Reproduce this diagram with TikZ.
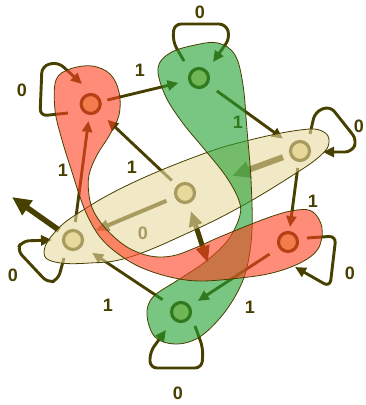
\documentclass[tikz,border=0pt]{standalone}
\usepackage{fontspec}
\setmainfont{Liberation Sans}
\usetikzlibrary{arrows.meta}
\definecolor{edgec}{HTML}{484000}
\definecolor{nodefill}{HTML}{E8D890}
\definecolor{tanfill}{HTML}{E8D8A0}
\definecolor{greenfill}{HTML}{20A030}
\definecolor{redfill}{HTML}{FF4020}
\begin{document}
\begin{tikzpicture}[x=1pt,y=-1pt,
  edge/.style={draw=edgec, line width=2.9pt, -{Triangle[length=11pt,width=10pt]}},
  st/.style={circle, draw=edgec, line width=3.2pt, fill=nodefill, minimum size=19pt, inner sep=0pt},
  lab/.style={text=edgec, font=\fontsize{18}{20}\selectfont\bfseries, inner sep=0pt},
  blob/.style={draw=edgec, line width=0.8pt, fill opacity=0.6},
  loopc/.style={rounded corners=7pt}
]
\useasboundingbox (0,0) rectangle (365,405);

% nodes
\node[st] (A) at (90.7,104) {};
\node[st] (B) at (199,78) {};
\node[st] (C) at (300,151) {};
\node[st] (D) at (288,242) {};
\node[st] (E) at (181,312) {};
\node[st] (F) at (73,240) {};
\node[st] (G) at (185,193) {};
\coordinate (g1) at (208,263);
\coordinate (f1) at (12,197);

% transitions
\draw[edge, shorten <=6pt, shorten >=10pt] (A) -- (B);
\draw[edge, shorten <=11pt, shorten >=10pt] (B) -- (C);
\draw[edge, shorten <=6pt, shorten >=4pt] (C) -- (D);
\draw[edge, shorten <=11pt, shorten >=9pt] (D) -- (E);
\draw[edge, shorten <=11pt, shorten >=12pt] (E) -- (F);
\draw[edge, shorten <=7pt, shorten >=6pt] (F) -- (A);
\draw[edge, shorten <=7pt, shorten >=12pt] (G) -- (A);
\draw[edge, line width=4pt, -{Triangle[length=14pt,width=11pt]}, shorten <=9pt, shorten >=13pt] (G) -- (F);
\draw[edge, line width=6pt, -{Triangle[length=18pt,width=16pt]}, shorten <=7pt, shorten >=39pt] (C) -- (G);
\draw[edge, line width=5pt, {Triangle[length=15pt,width=13pt]}-{Triangle[length=17pt,width=13pt]}, shorten <=8pt] (G) -- (g1);
\draw[edge, line width=5.5pt, -{Triangle[length=19pt,width=17pt]}, shorten <=6pt] (F) -- (f1);

% self loops
\draw[edge, loopc] ([shift={(-22.7,9)}]A.center) -- ([shift={(-50.7,12)}]A.center) -- ([shift={(-48.7,-38)}]A.center) -- ([shift={(-32.7,-42)}]A.center) -- ([shift={(-8.7,-20)}]A.center);
\draw[edge, loopc] ([shift={(-15,-17)}]B.center) -- ([shift={(-26,-36)}]B.center) -- ([shift={(-25,-54)}]B.center) -- ([shift={(27,-54)}]B.center) -- ([shift={(31,-40)}]B.center) -- ([shift={(14,-16)}]B.center);
\draw[edge, loopc] ([shift={(10,-17)}]C.center) -- ([shift={(15,-39)}]C.center) -- ([shift={(30,-45)}]C.center) -- ([shift={(57,-11)}]C.center) -- ([shift={(52,1)}]C.center) -- ([shift={(23,1)}]C.center);
\draw[edge, loopc] ([shift={(19,-4)}]D.center) -- ([shift={(48,-6)}]D.center) -- ([shift={(42,45)}]D.center) -- ([shift={(7,25)}]D.center);
\draw[edge, loopc] ([shift={(14,14)}]E.center) -- ([shift={(22,36)}]E.center) -- ([shift={(21,56)}]E.center) -- ([shift={(-31,56)}]E.center) -- ([shift={(-31,40)}]E.center) -- ([shift={(-15,18)}]E.center);
\draw[edge, loopc] ([shift={(-9,18)}]F.center) -- ([shift={(-15,40)}]F.center) -- ([shift={(-25,43)}]F.center) -- ([shift={(-56,10)}]F.center) -- ([shift={(-51,1)}]F.center) -- ([shift={(-21,0)}]F.center);

% labels
\node[lab] (l1) at (22,90) {0};
\node[lab] (l2) at (140,70) {1};
\node[lab] (l3) at (200,12) {0};
\node[lab] (l4) at (238,122) {1};
\node[lab] (l5) at (359,126) {0};
\node[lab] (l6) at (313,201) {1};
\node[lab] (l7) at (350,273) {0};
\node[lab] (l8) at (250,307) {1};
\node[lab] (l9) at (178,393) {0};
\node[lab] (l10) at (108,305) {1};
\node[lab] (l11) at (13,275) {0};
\node[lab] (l12) at (63,170) {1};
\node[lab] (l13) at (132,167) {1};
\node[lab] (l14) at (143,233) {0};

% class regions
\path[blob, fill=tanfill] plot[smooth cycle, tension=0.7] coordinates {
  (44,252) (55,232) (80,212) (130,184) (200,155) (250,140) (300,130) (322,131) (329,142) (320,156) (290,177) (240,207) (190,232) (130,257) (90,263) (55,262)};
\path[blob, fill=greenfill] plot[smooth cycle, tension=0.6] coordinates {
  (158,68) (170,53) (195,45) (218,43) (235,55) (243,85) (247,130) (251,180) (252,230) (247,267) (237,293) (220,318) (198,338) (175,344) (155,337) (147,315) (153,297) (178,280) (205,262) (228,240) (240,215) (238,198) (225,175) (205,150) (182,122) (165,95)};
\path[blob, fill=redfill] plot[smooth cycle, tension=0.6] coordinates {
  (56,80) (70,69) (92,66) (110,74) (119,92) (119,115) (109,136) (97,155) (89,175) (89,195) (94,212) (107,230) (127,247) (150,256) (172,256) (195,248) (222,236) (270,217) (297,210) (313,212) (322,228) (318,249) (300,263) (272,273) (240,278) (200,281) (170,277) (140,267) (117,253) (100,237) (88,217) (80,197) (72,172) (62,140) (55,110)};
\end{tikzpicture}
\end{document}
